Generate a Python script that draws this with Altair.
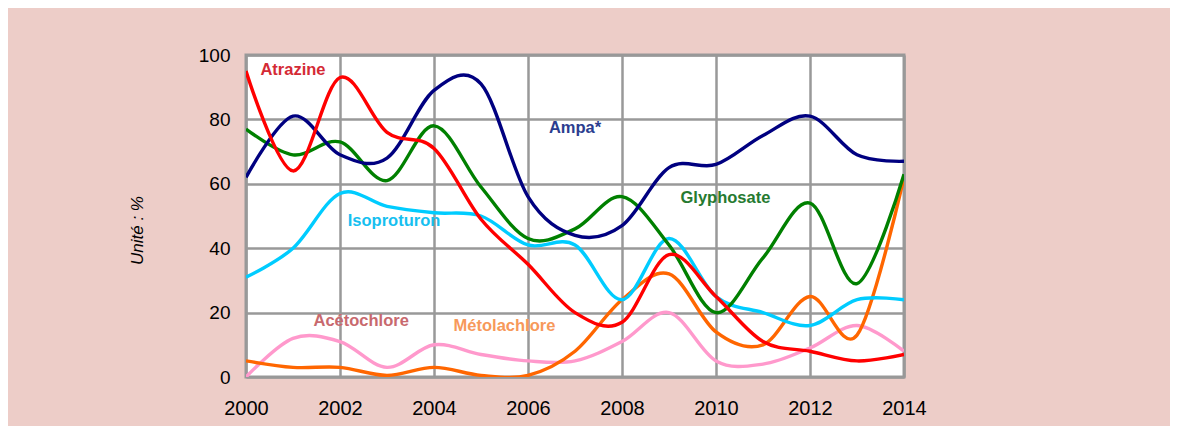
import altair as alt
import pandas as pd

years = list(range(2000, 2015))
ampa = [62, 81, 69, 68, 89, 91, 56, 44, 47, 65, 66, 75, 81, 69, 67]
glyphosate = [77, 69, 73, 61, 78, 59, 43, 46, 56, 41, 20, 37, 54, 29, 63]
atrazine = [95, 64, 93, 76, 71, 49, 35, 20, 17, 38, 25, 11, 8, 5, 7]
isoproturon = [31, 40, 57, 53, 51, 50, 41, 41, 24, 43, 25, 20, 16, 24, 24]
metolachlore = [5, 3, 3, 0.5, 3, 0.5, 0.5, 8, 24, 32, 14, 10, 25, 13, 62]
acetochlore = [0, 12, 11, 3, 10, 7, 5, 5, 11, 20, 5, 4, 9, 16, 8]

series_names = ["Acétochlore", "Métolachlore", "Isoproturon", "Glyphosate", "Ampa*", "Atrazine"]
series_values = [acetochlore, metolachlore, isoproturon, glyphosate, ampa, atrazine]
line_colors = ["#ff99cc", "#ff6600", "#00ccff", "#008000", "#000080", "#ff0000"]

label_text = ["Atrazine", "Ampa*", "Glyphosate", "Isoproturon", "Acétochlore", "Métolachlore"]
label_x = [2001.0, 2007.0, 2010.2, 2003.15, 2002.45, 2005.5]
label_y = [95.3, 77.3, 55.6, 48.4, 17.4, 15.8]
label_colors = ["#d42a35", "#2b3d8f", "#267a30", "#16bff0", "#c8696e", "#f7995a"]

rows = []
for name, vals in zip(series_names, series_values):
    for yr, v in zip(years, vals):
        rows.append({"year": yr, "value": v, "series": name})
df = pd.DataFrame(rows)
labels = pd.DataFrame({"text": label_text, "x": label_x, "y": label_y, "c": label_colors})

W, H = 658, 322
TOTAL_W, TOTAL_H = 1162, 418

xscale = alt.Scale(domain=[2000, 2014], nice=False)
yscale = alt.Scale(domain=[0, 100], nice=False)

lines = alt.Chart(df).mark_line(strokeWidth=3.4, interpolate="cardinal", clip=True).encode(
    x=alt.X("year:Q", scale=xscale,
            axis=alt.Axis(values=list(range(2000, 2015, 2)), format="d", title=None,
                          grid=True, gridColor="#999999", gridWidth=2.5, ticks=False,
                          domain=False, labelFontSize=20, labelPadding=21, labelFlush=False,
                          labelColor="#000000", labelFont="Liberation Sans")),
    y=alt.Y("value:Q", scale=yscale,
            axis=alt.Axis(values=[0, 20, 40, 60, 80, 100], title="Unité : %",
                          grid=True, gridColor="#999999", gridWidth=2.5, ticks=False,
                          domain=False, labelFontSize=19, labelPadding=16, labelFlush=False,
                          labelColor="#000000", labelFont="Liberation Sans",
                          titleFontSize=17, titleFontStyle="italic", titleFontWeight="normal",
                          titleFont="Liberation Sans", titleColor="#000000",
                          titleAngle=270, titleAlign="center", titleBaseline="middle",
                          titleX=-109, titleY=175)),
    color=alt.Color("series:N", scale=alt.Scale(domain=series_names, range=line_colors), legend=None),
    order=alt.Order("series_order:Q"),
).transform_calculate(
    series_order="indexof(%s, datum.series)" % str(series_names)
)

texts = alt.Chart(labels).mark_text(fontSize=16.5, fontWeight="bold", font="Liberation Sans").encode(
    x=alt.X("x:Q", scale=xscale),
    y=alt.Y("y:Q", scale=yscale),
    text="text:N",
    color=alt.Color("c:N", scale=None),
)

chart = alt.layer(lines, texts).properties(
    width=W, height=H,
    background="#edcdc8",
    autosize=alt.AutoSizeParams(type="none"),
    padding={"left": 238, "top": 47, "right": TOTAL_W - 238 - W, "bottom": TOTAL_H - 47 - H},
).configure_view(stroke="#999999", strokeWidth=3, fill="#ffffff")

chart.save("out.html", embed_options={"renderer": "svg", "actions": False})
